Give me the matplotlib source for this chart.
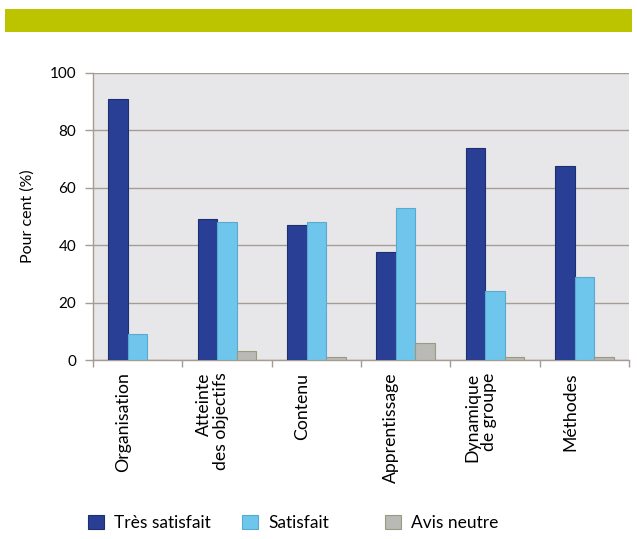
import matplotlib
matplotlib.use("Agg")
import matplotlib.pyplot as plt
import numpy as np
from matplotlib.patches import Rectangle

categories = ["Organisation", "Atteinte\ndes objectifs", "Contenu", "Apprentissage",
              "Dynamique\nde groupe", "Méthodes"]
tres_satisfait = [91, 49, 47, 37.5, 74, 67.5]
satisfait = [9, 48, 48, 53, 24, 29]
avis_neutre = [0, 3, 1, 6, 1, 1]
series_names = ["Très satisfait", "Satisfait", "Avis neutre"]
y_ticks = [0, 20, 40, 60, 80, 100]

plt.rcParams['font.family'] = ['Lato', 'DejaVu Sans']

W, H = 637, 539
fig = plt.figure(figsize=(W / 100, H / 100), dpi=100)
fig.patch.set_facecolor("white")

# green header band
fig.patches.append(Rectangle((5 / W, 1 - 32 / H), 627 / W, 23 / H,
                             transform=fig.transFigure, facecolor="#bcc400",
                             edgecolor="none"))

ax = fig.add_axes([93 / W, 1 - 360 / H, (629 - 93) / W, (360 - 73) / H])
ax.set_facecolor("#e7e7e9")

x = np.arange(len(categories))
bw = 0.22
cols = ["#283f95", "#6ec6ec", "#b9b9b5"]
edges = ["#1e2f70", "#5aa9d0", "#9a9a80"]
conts = []
for i, (vals, c, e, n) in enumerate(zip([tres_satisfait, satisfait, avis_neutre], cols, edges, series_names)):
    b = ax.bar(x + (i - 1) * bw, vals, bw, color=c, edgecolor=e, linewidth=0.8,
               label=n, zorder=3)
    conts.append(b)

ax.set_xlim(-0.5, len(categories) - 0.5)
ax.set_ylim(0, 100)
ax.set_yticks(y_ticks)
ax.set_yticklabels([str(t) for t in y_ticks], fontsize=11)
ax.yaxis.grid(True, color="#a59d93", linewidth=1.0, zorder=1)
ax.set_axisbelow(True)

# category labels (slightly left of group centres, as in the reference)
ax.set_xticks(x - 0.16)
ax.set_xticklabels(categories, rotation=90, fontsize=12.7, ha="center", va="top",
                   multialignment="right", linespacing=1.05)
ax.tick_params(axis="x", length=0, pad=9)
ax.set_xticks(np.arange(len(categories) + 1) - 0.5, minor=True)
ax.tick_params(axis="x", which="minor", length=5, color="#a59d93", width=1)
ax.tick_params(axis="y", length=6, color="#a59d93", width=1, pad=6)

for s in ["top", "right"]:
    ax.spines[s].set_visible(False)
for s in ["left", "bottom"]:
    ax.spines[s].set_color("#a59d93")
    ax.spines[s].set_linewidth(1.0)

fig.text(28 / W, 1 - 216 / H, "Pour cent (%)", rotation=90, ha="center", va="center",
         fontsize=11.5)

# legend entries
leg_x = [88, 242, 385]
for bc, lx in zip(conts, leg_x):
    lg = fig.legend(handles=[bc.patches[0]], labels=[bc.get_label()],
                    loc="center left", bbox_to_anchor=(lx / W, 1 - 523 / H),
                    frameon=False, fontsize=12.5, handlelength=0.9, handleheight=0.9,
                    handletextpad=0.6, borderaxespad=0, borderpad=0)

fig.savefig("out.png", dpi=100, facecolor="white")
